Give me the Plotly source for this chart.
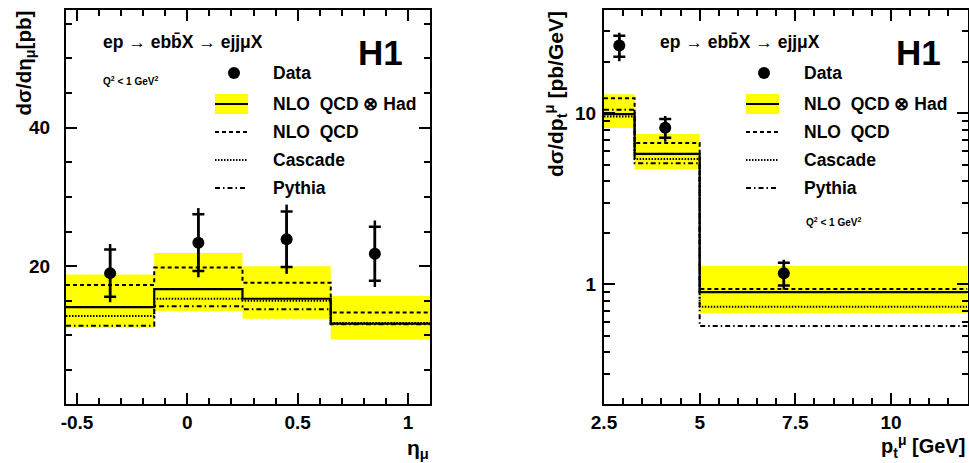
import plotly.graph_objects as go

# ---------------- data ----------------
eta_edges = [-0.55, -0.15, 0.25, 0.65, 1.1]
eta_centers = [-0.35, 0.05, 0.45, 0.85]
eta_data = [19.0, 23.4, 23.9, 21.8]
eta_stat = [3.4, 4.1, 4.0, 3.9]
eta_tot = [4.2, 5.0, 5.0, 4.8]
eta_nlohad = [14.1, 16.7, 15.3, 11.7]
eta_band_lo = [11.1, 13.5, 12.4, 9.4]
eta_band_hi = [18.8, 21.9, 20.0, 15.7]
eta_nlo = [17.3, 19.8, 17.6, 13.3]
eta_cascade = [12.8, 15.3, 15.0, 11.8]
eta_pythia = [11.4, 14.2, 13.8, 11.6]

pt_edges = [2.5, 3.3, 5.0, 12.0]
pt_centers = [2.9, 4.1, 7.2]
pt_data = [24.8, 8.2, 1.16]
pt_stat = [3.5, 1.03, 0.175]
pt_tot = [4.7, 1.4, 0.23]
pt_nlohad = [9.87, 5.78, 0.90]
pt_band_lo = [8.17, 4.72, 0.68]
pt_band_hi = [12.9, 7.54, 1.28]
pt_nlo = [12.2, 6.68, 0.94]
pt_cascade = [9.55, 5.4, 0.74]
pt_pythia = [10.45, 5.1, 0.57]

eta_ticks = [-0.5, 0, 0.5, 1]
eta_ticktext = ["-0.5", "0", "0.5", "1"]
pt_ticks = [2.5, 5, 7.5, 10]
pt_ticktext = ["2.5", "5", "7.5", "10"]
eta_yticks = [20, 40]
pt_yticks = [1, 10]
pt_yminor = [0.2, 0.3, 0.4, 0.5, 0.6, 0.7, 0.8, 0.9, 2, 3, 4, 5, 6, 7, 8, 9, 20, 30, 40]

legend_labels = ["Data", "NLO  QCD \u2297 Had", "NLO  QCD", "Cascade", "Pythia"]

# ---------------- layout helpers ----------------
W, H = 969, 463
FONT = "Liberation Sans, Arial, sans-serif"
YELLOW = "#ffff00"


def px(x):
    return x / W


def py(y):
    return 1 - y / H


fig = go.Figure()


def add_panel(xa, ya, edges, centers, data, stat, tot, nlohad, lo, hi, nlo, casc, pyth):
    mids = [(edges[i] + edges[i + 1]) / 2 for i in range(len(edges) - 1)]
    widths = [edges[i + 1] - edges[i] for i in range(len(edges) - 1)]
    fig.add_trace(go.Bar(x=mids, y=[h - l for h, l in zip(hi, lo)], base=lo, width=widths,
                         marker=dict(color=YELLOW, line=dict(width=0)),
                         xaxis=xa, yaxis=ya, showlegend=False, hoverinfo="skip"))

    def step(vals, dash, width=2):
        fig.add_trace(go.Scatter(x=edges, y=list(vals) + [vals[-1]], mode="lines",
                                 line=dict(shape="hv", color="black", width=width, dash=dash),
                                 xaxis=xa, yaxis=ya, showlegend=False, hoverinfo="skip"))

    step(pyth, "5px,3px,1.5px,3px")
    step(casc, "1.5px,1.5px")
    step(nlo, "4px,3px")
    step(nlohad, "solid", 2.2)
    fig.add_trace(go.Scatter(x=centers, y=data, mode="markers",
                             marker=dict(size=1, color="black"),
                             error_y=dict(type="data", array=tot, color="black", thickness=2.5, width=0),
                             xaxis=xa, yaxis=ya, showlegend=False, hoverinfo="skip"))
    fig.add_trace(go.Scatter(x=centers, y=data, mode="markers",
                             marker=dict(size=12, color="black"),
                             error_y=dict(type="data", array=stat, color="black", thickness=2.5, width=6),
                             xaxis=xa, yaxis=ya, showlegend=False))


add_panel("x", "y", eta_edges, eta_centers, eta_data, eta_stat, eta_tot, eta_nlohad,
          eta_band_lo, eta_band_hi, eta_nlo, eta_cascade, eta_pythia)
add_panel("x2", "y2", pt_edges, pt_centers, pt_data, pt_stat, pt_tot, pt_nlohad,
          pt_band_lo, pt_band_hi, pt_nlo, pt_cascade, pt_pythia)

tickfont = dict(family=FONT, size=19, color="black", weight="bold")
common = dict(showline=True, linecolor="black", linewidth=2, mirror="ticks", ticks="inside",
              ticklen=11, tickwidth=1.5, tickcolor="black", showgrid=False, zeroline=False,
              tickfont=tickfont, automargin=False)

yd = [py(404), py(10)]
fig.update_layout(
    width=W, height=H, margin=dict(l=0, r=0, t=0, b=0, autoexpand=False),
    paper_bgcolor="white", plot_bgcolor="white", barmode="overlay", showlegend=False,
    xaxis=dict(domain=[px(66), px(430)], range=[-0.55, 1.1], anchor="y",
               tickmode="array", tickvals=eta_ticks, ticktext=eta_ticktext,
               minor=dict(ticks="inside", dtick=0.1, tick0=0, ticklen=6, tickwidth=1.5, tickcolor="black"),
               ticklabelstandoff=0, **common),
    yaxis=dict(domain=yd, range=[0.1, 57], anchor="x",
               tickmode="array", tickvals=eta_yticks,
               minor=dict(ticks="inside", dtick=5, tick0=0, ticklen=6, tickwidth=1.5, tickcolor="black"),
               ticklabelstandoff=10, **common),
    xaxis2=dict(domain=[px(604), px(967.5)], range=[2.5, 12], anchor="y2",
                tickmode="array", tickvals=pt_ticks, ticktext=pt_ticktext,
                minor=dict(ticks="inside", dtick=0.5, tick0=0, ticklen=6, tickwidth=1.5, tickcolor="black"),
                ticklabelstandoff=0, **common),
    yaxis2=dict(domain=yd, type="log", range=[-0.69897, 1.60206], anchor="x2",
                tickmode="array", tickvals=pt_yticks, ticktext=["1", "10"],
                minor=dict(ticks="inside", tickmode="array", tickvals=pt_yminor, ticklen=6,
                           tickwidth=1.5, tickcolor="black"),
                ticklabelstandoff=2, **common),
)

ann = []


def text(x, y, s, size, xanchor="left", yanchor="middle", angle=0):
    ann.append(dict(x=px(x), y=py(y), xref="paper", yref="paper", text=s, showarrow=False,
                    xanchor=xanchor, yanchor=yanchor, textangle=angle,
                    font=dict(family=FONT, size=size, color="black")))


shapes = []
legend_y = [73, 104, 132, 160, 188]


def legend(xl, xr, xm, xt):
    r = 6
    shapes.append(dict(type="circle", xref="paper", yref="paper", x0=px(xm - r), x1=px(xm + r),
                       y0=py(legend_y[0] + r), y1=py(legend_y[0] - r), fillcolor="black",
                       line=dict(width=0)))
    shapes.append(dict(type="rect", xref="paper", yref="paper", x0=px(xl), x1=px(xr),
                       y0=py(114), y1=py(94), fillcolor=YELLOW, line=dict(width=0)))
    dashes = ["solid", "4px,3px", "1.5px,1.5px", "5px,3px,1.5px,3px"]
    for yy, d in zip(legend_y[1:], dashes):
        shapes.append(dict(type="line", xref="paper", yref="paper", x0=px(xl), x1=px(xr),
                           y0=py(yy), y1=py(yy), line=dict(color="black", width=2.2, dash=d)))
    for yy, lab in zip(legend_y, legend_labels):
        text(xt, yy, "<b>" + lab + "</b>", 17.5)


legend(215, 248, 234, 271)
legend(746, 779, 764, 802)

proc = "<b>ep \u2192 ebb\u0304X \u2192 ejj\u03bcX</b>"
text(101, 42, proc, 17.5)
text(658, 42, proc, 17.5)
text(356, 52, "<b>H1</b>", 35)
text(894, 52, "<b>H1</b>", 35)
q2 = "<b>Q<sup>2</sup> < 1 GeV<sup>2</sup></b>"
text(101, 81, q2, 10)
text(804, 222, q2, 10)

text(24, 9, "<b>d\u03c3/d\u03b7<sub>\u03bc</sub>[pb]</b>", 20.5, xanchor="center", yanchor="top", angle=-90)
text(555, 9, "<b>d\u03c3/dp<sub>t</sub><sup>\u03bc</sup> [pb/GeV]</b>", 21, xanchor="center", yanchor="top", angle=-90)
text(431, 449, "<b>\u03b7<sub>\u03bc</sub></b>", 21, xanchor="right")
text(967, 446, "<b>p<sub>t</sub><sup>\u03bc</sup> [GeV]</b>", 20, xanchor="right")

fig.update_layout(annotations=ann, shapes=shapes)
fig.write_html("out.html", config={"displayModeBar": False},
               post_script="document.body.style.margin='0px';document.body.style.overflow='hidden';")
